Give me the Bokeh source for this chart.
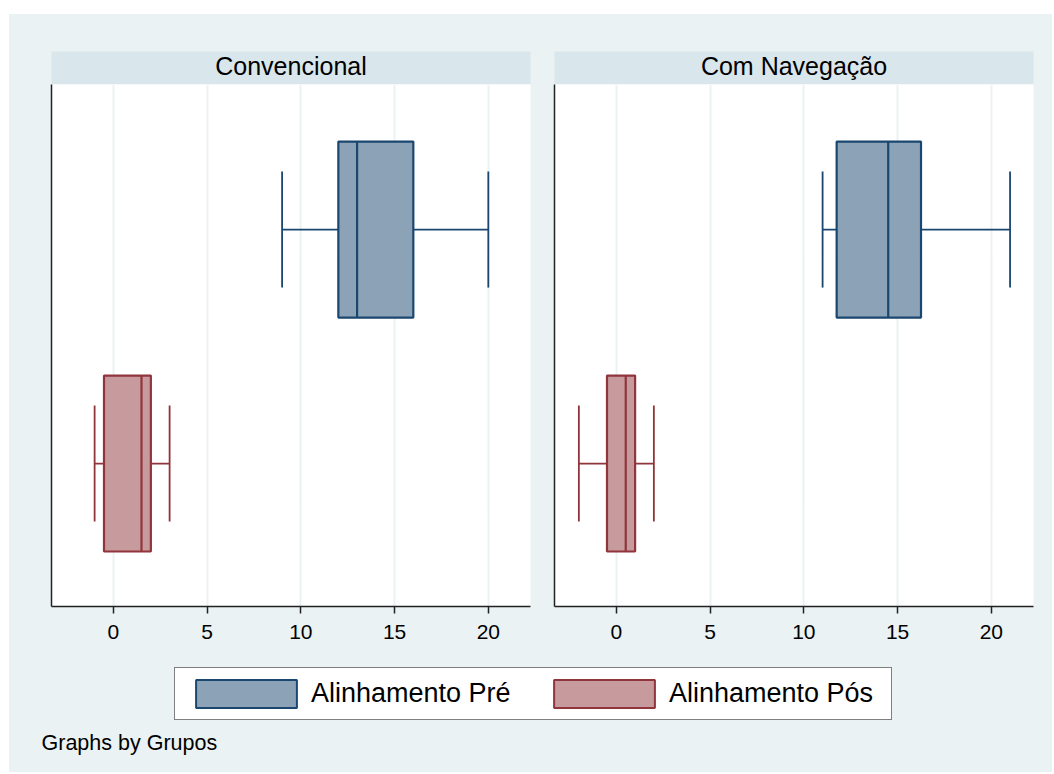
from bokeh.plotting import figure
from bokeh.layouts import row, column
from bokeh.models import (Range1d, FixedTicker, Label, Legend, LegendItem,
                          ColumnDataSource)
from bokeh.embed import file_html
from bokeh.resources import INLINE

# ---------------- data ----------------
groups = ["Convencional", "Com Navegação"]
series = ["Alinhamento Pré", "Alinhamento Pós"]
series_pos = [1, 0]           # vertical slot of each series
x_ticks = [0, 5, 10, 15, 20]

# per group: [Pré, Pós]
lower_whisker = {"Convencional": [9, -1], "Com Navegação": [11, -2]}
q1 = {"Convencional": [12, -0.5], "Com Navegação": [11.75, -0.5]}
median = {"Convencional": [13, 1.5], "Com Navegação": [14.5, 0.5]}
q3 = {"Convencional": [16, 2], "Com Navegação": [16.25, 1]}
upper_whisker = {"Convencional": [20, 3], "Com Navegação": [21, 2]}

line_colors = ["#1A476F", "#90353B"]
fill_colors = ["#8CA3B7", "#C79A9D"]

BG = "#EAF2F3"
STRIP = "#D9E6EB"
FONT = "Liberation Sans"

BOX_H = 0.752
CAP_H = 0.496
X_RANGE = (-3.3, 22.25)
Y_RANGE = (-0.611, 1.62)
NAN = float("nan")


def make_panel(group, left_border, right_border):
    # strip (panel title)
    s = figure(frame_width=479, frame_height=33, min_border_top=37,
               min_border_bottom=0, min_border_left=left_border,
               min_border_right=right_border, x_range=Range1d(0, 1),
               y_range=Range1d(0, 1), x_axis_location=None,
               y_axis_location=None, toolbar_location=None,
               output_backend="svg", styles={"background-color": BG})
    s.background_fill_color = STRIP
    s.border_fill_color = BG
    s.outline_line_color = None
    s.grid.visible = False
    s.add_layout(Label(x=0.5, y=0.5, y_offset=2, text=group,
                       text_align="center", text_baseline="middle",
                       text_font=FONT, text_font_size="25px",
                       text_color="black"))

    p = figure(frame_width=479, frame_height=522, min_border_top=0,
               min_border_bottom=48, min_border_left=left_border,
               min_border_right=right_border,
               x_range=Range1d(*X_RANGE), y_range=Range1d(*Y_RANGE),
               toolbar_location=None, output_backend="svg",
               styles={"background-color": BG})
    p.background_fill_color = "white"
    p.border_fill_color = BG
    p.outline_line_color = None

    src = ColumnDataSource(dict(
        y=series_pos, lw=lower_whisker[group], q1=q1[group],
        med=median[group], q3=q3[group], uw=upper_whisker[group],
        lc=line_colors, fc=fill_colors,
        ylo=[v - CAP_H / 2 for v in series_pos],
        yhi=[v + CAP_H / 2 for v in series_pos],
        blo=[v - BOX_H / 2 for v in series_pos],
        bhi=[v + BOX_H / 2 for v in series_pos],
    ))
    # whiskers
    p.segment(x0="lw", x1="q1", y0="y", y1="y", source=src,
              line_color="lc", line_width=1.8)
    p.segment(x0="q3", x1="uw", y0="y", y1="y", source=src,
              line_color="lc", line_width=1.8)
    p.segment(x0="lw", x1="lw", y0="ylo", y1="yhi", source=src,
              line_color="lc", line_width=1.8)
    p.segment(x0="uw", x1="uw", y0="ylo", y1="yhi", source=src,
              line_color="lc", line_width=1.8)
    # box
    p.hbar(y="y", left="q1", right="q3", height=BOX_H, source=src,
           fill_color="fc", line_color="lc", line_width=2.2)
    # median
    p.segment(x0="med", x1="med", y0="blo", y1="bhi", source=src,
              line_color="lc", line_width=2.2)

    p.xaxis.ticker = FixedTicker(ticks=x_ticks)
    p.xaxis.minor_tick_line_color = None
    p.xaxis.major_tick_in = 0
    p.xaxis.major_tick_out = 7
    p.xaxis.major_tick_line_color = "#222222"
    p.xaxis.major_tick_line_width = 1.5
    p.xaxis.axis_line_color = "#222222"
    p.xaxis.axis_line_width = 1.5
    p.xaxis.major_label_text_font = FONT
    p.xaxis.major_label_text_font_size = "21px"
    p.xaxis.major_label_text_color = "black"
    p.xaxis.major_label_standoff = 11

    p.yaxis.ticker = FixedTicker(ticks=[])
    p.yaxis.minor_tick_line_color = None
    p.yaxis.major_tick_in = 0
    p.yaxis.major_tick_out = 0
    p.yaxis.major_label_standoff = 0
    p.yaxis.axis_line_color = "#222222"
    p.yaxis.axis_line_width = 1.5

    p.xgrid.ticker = FixedTicker(ticks=x_ticks)
    p.xgrid.grid_line_color = BG
    p.xgrid.grid_line_width = 2
    p.ygrid.visible = False
    return column(s, p, spacing=0, styles={"background-color": BG})


panel1 = make_panel(groups[0], 42, 12)
panel2 = make_panel(groups[1], 12, 19)

# ---------------- legend + note ----------------
b = figure(width=1043, height=118, min_border=0, x_range=Range1d(0, 1),
           y_range=Range1d(0, 1), x_axis_location=None, y_axis_location=None,
           toolbar_location=None, output_backend="svg",
           styles={"background-color": BG})
b.background_fill_color = BG
b.border_fill_color = BG
b.outline_line_color = None
b.grid.visible = False

items = []
for name, lc, fc in zip(series, line_colors, fill_colors):
    r = b.quad(left=[NAN], right=[NAN], top=[NAN], bottom=[NAN],
               fill_color=fc, line_color=lc, line_width=2)
    items.append(LegendItem(label=name, renderers=[r]))

legend = Legend(items=items, orientation="horizontal", location=(165, 52),
                margin=0, padding=8, spacing=16, label_standoff=2,
                glyph_width=126, glyph_height=35, label_width=214,
                label_text_font=FONT, label_text_font_size="27px",
                label_text_color="black", border_line_color="black",
                border_line_width=1, background_fill_color="white",
                background_fill_alpha=1)
b.add_layout(legend, "center")

b.add_layout(Label(x=32, y=30, x_units="screen", y_units="screen",
                   text="Graphs by Grupos", text_font=FONT,
                   text_font_size="21.5px", text_baseline="middle",
                   text_color="black"))

layout = column(row(panel1, panel2, spacing=0,
                    styles={"background-color": BG}),
                b, spacing=0, margin=(14, 0, 0, 9))

open("out.html", "w").write(file_html(layout, INLINE))
